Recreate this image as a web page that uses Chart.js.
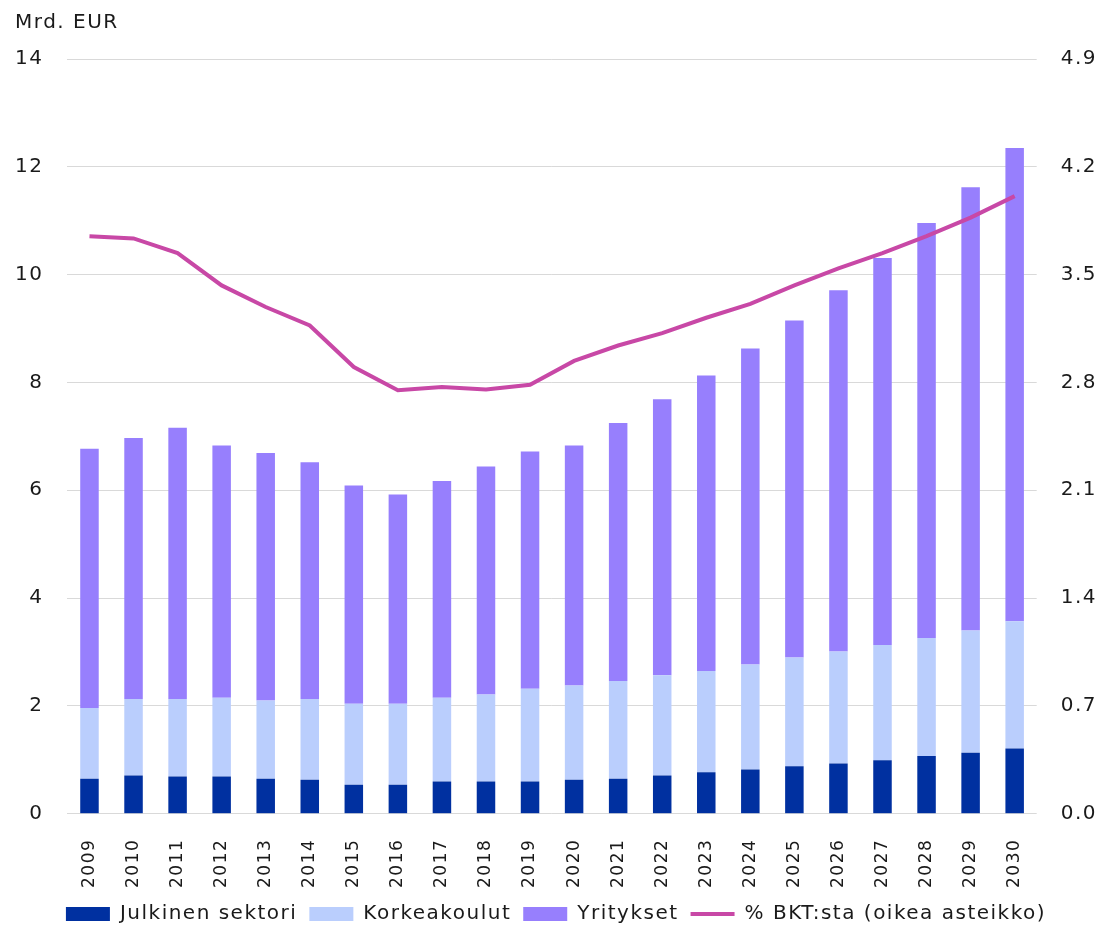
<!DOCTYPE html>
<html>
<head>
<meta charset="utf-8">
<script src="https://cdn.jsdelivr.net/npm/chart.js@4.4.1/dist/chart.umd.min.js"></script>
<style>
  html, body { margin: 0; padding: 0; background: #fff; }
  #wrap { width: 1100px; height: 925px; }
</style>
</head>
<body>
<div id="wrap"><canvas id="rdChart"></canvas></div>
<script>
// R&D spending by sector (bn EUR) and share of GDP (right axis)
var years = ['2009', '2010', '2011', '2012', '2013', '2014', '2015', '2016', '2017', '2018', '2019',
    '2020', '2021', '2022', '2023', '2024', '2025', '2026', '2027', '2028', '2029', '2030'];

var julkinen = [0.65, 0.71, 0.69, 0.69, 0.65, 0.63, 0.54, 0.54, 0.60, 0.60, 0.60,
    0.63, 0.65, 0.71, 0.77, 0.82, 0.88, 0.93, 0.99, 1.07, 1.13, 1.21];

var korkeakoulut = [1.31, 1.42, 1.44, 1.46, 1.45, 1.50, 1.50, 1.50, 1.55, 1.61, 1.72,
    1.75, 1.81, 1.86, 1.88, 1.95, 2.02, 2.08, 2.14, 2.19, 2.27, 2.36];

var yritykset = [4.81, 4.84, 5.03, 4.68, 4.59, 4.39, 4.05, 3.88, 4.02, 4.23, 4.40,
    4.45, 4.79, 5.12, 5.48, 5.86, 6.25, 6.70, 7.18, 7.70, 8.22, 8.78];

var bktOsuus = [3.75, 3.735, 3.64, 3.43, 3.29, 3.17, 2.90, 2.75, 2.77, 2.755, 2.785,
    2.94, 3.04, 3.12, 3.22, 3.31, 3.43, 3.54, 3.64, 3.75, 3.87, 4.01];

var leftTicks = [0, 2, 4, 6, 8, 10, 12, 14];
var rightTicks = [0, 0.7, 1.4, 2.1, 2.8, 3.5, 4.2, 4.9];

Chart.defaults.font.family = '"DejaVu Sans", Verdana, sans-serif';
Chart.defaults.color = '#1a1a1a';

// the original text is a bit wider than DejaVu, add some tracking
var spacingPlugin = {
    id: 'spacing',
    beforeUpdate: function (chart) { chart.ctx.letterSpacing = '1.5px'; },
    beforeDraw: function (chart) { chart.ctx.letterSpacing = '1.5px'; }
};

// chart.js reserves tick padding on both sides of the labels, drop the outer one
function trimWidth(axis) { axis.width -= axis.options.ticks.padding; }

function barSet(label, data, color) {
    return {
        type: 'bar',
        label: label,
        data: data,
        backgroundColor: color,
        borderWidth: 0,
        pointStyle: 'rect',
        yAxisID: 'y',
        stack: 'rd',
        order: 1,
        barPercentage: 0.42,
        categoryPercentage: 1.0
    };
}

var ctx = document.getElementById('rdChart');
new Chart(ctx, {
    data: {
        labels: years,
        datasets: [
            barSet('Julkinen sektori', julkinen, '#0030a0'),
            barSet('Korkeakoulut', korkeakoulut, '#bacefd'),
            barSet('Yritykset', yritykset, '#977ffd'),
            {
                type: 'line',
                label: '% BKT:sta (oikea asteikko)',
                data: bktOsuus,
                borderColor: '#c848a6',
                backgroundColor: '#c848a6',
                borderWidth: 4,
                pointRadius: 0,
                pointStyle: 'line',
                tension: 0,
                yAxisID: 'y1',
                order: 0
            }
        ]
    },
    options: {
        responsive: true,
        maintainAspectRatio: false,
        animation: false,
        layout: {
            padding: { left: 15, right: 3, top: 11, bottom: -9 }
        },
        plugins: {
            title: {
                display: true,
                text: 'Mrd. EUR',
                align: 'start',
                color: '#1a1a1a',
                font: { size: 20, weight: 'normal' },
                padding: { top: 0, bottom: 24 }
            },
            legend: {
                position: 'bottom',
                labels: {
                    usePointStyle: true,
                    pointStyleWidth: 44,
                    boxHeight: 14,
                    padding: 12,
                    color: '#1a1a1a',
                    font: { size: 20 },
                    sort: function (a, b) { return a.datasetIndex - b.datasetIndex; }
                }
            },
            tooltip: { enabled: false }
        },
        scales: {
            x: {
                stacked: true,
                grid: { display: false },
                border: { display: false },
                ticks: {
                    minRotation: 90,
                    maxRotation: 90,
                    padding: 17,
                    font: { size: 17 }
                },
                afterFit: function (axis) {
                    axis.paddingLeft = 0;
                    axis.paddingRight = 0;
                    axis.height -= 13;
                }
            },
            y: {
                stacked: true,
                position: 'left',
                min: 0,
                max: 14,
                afterBuildTicks: function (axis) {
                    axis.ticks = leftTicks.map(function (v) { return { value: v }; });
                },
                afterFit: trimWidth,
                grid: { color: '#d9d9d9', lineWidth: 1, drawTicks: false },
                border: { display: false },
                ticks: { padding: 24, font: { size: 20 } }
            },
            y1: {
                position: 'right',
                min: 0,
                max: 4.9,
                afterBuildTicks: function (axis) {
                    axis.ticks = rightTicks.map(function (v) { return { value: v }; });
                },
                afterFit: trimWidth,
                grid: { display: false, drawTicks: false },
                border: { display: false },
                ticks: {
                    padding: 24,
                    font: { size: 20 },
                    callback: function (v) { return v.toFixed(1); }
                }
            }
        }
    },
    plugins: [spacingPlugin]
});
</script>
</body>
</html>
